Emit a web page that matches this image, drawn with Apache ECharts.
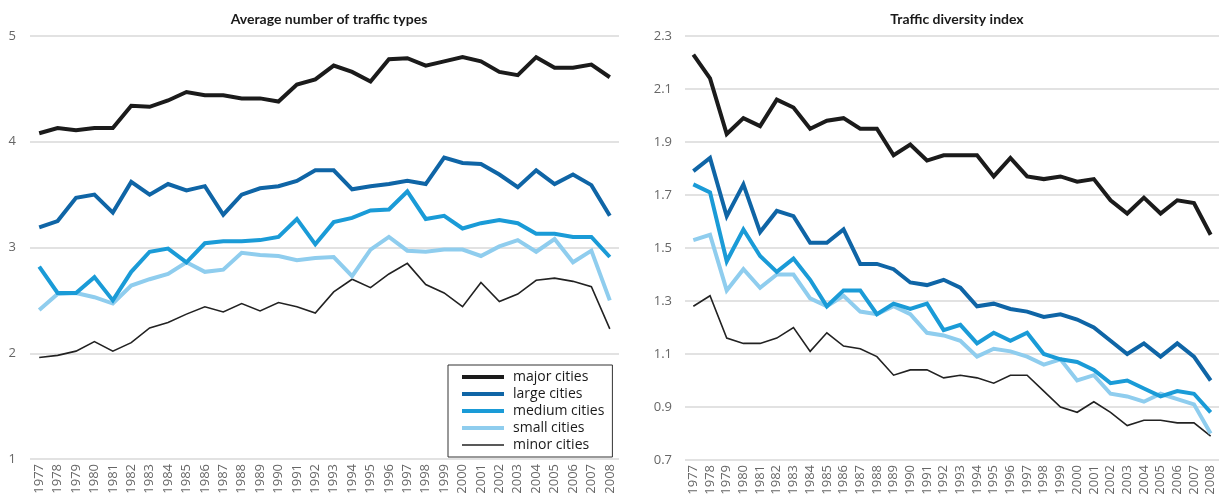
<!DOCTYPE html>
<html><head><meta charset="utf-8">
<script src="https://cdn.jsdelivr.net/npm/echarts@6/dist/echarts.min.js"></script>
<style>html,body{margin:0;padding:0;background:#fff}#c{width:1223px;height:499px}</style>
</head><body><div id="c"></div>
<script>
const years = ['1977','1978','1979','1980','1981','1982','1983','1984','1985','1986','1987','1988','1989','1990','1991','1992','1993','1994','1995','1996','1997','1998','1999','2000','2001','2002','2003','2004','2005','2006','2007','2008'];
const seriesNames = ['major cities','large cities','medium cities','small cities','minor cities'];

// Average number of traffic types
const typesMajor  = [4.08,4.13,4.11,4.13,4.13,4.34,4.33,4.39,4.47,4.44,4.44,4.41,4.41,4.38,4.54,4.59,4.72,4.66,4.57,4.78,4.79,4.72,4.76,4.80,4.76,4.66,4.63,4.80,4.70,4.70,4.73,4.61];
const typesLarge  = [3.19,3.25,3.47,3.50,3.33,3.62,3.50,3.60,3.54,3.58,3.31,3.50,3.56,3.58,3.63,3.73,3.73,3.55,3.58,3.60,3.63,3.60,3.85,3.80,3.79,3.69,3.57,3.73,3.60,3.69,3.59,3.30];
const typesMedium = [2.82,2.57,2.57,2.72,2.50,2.77,2.96,2.99,2.86,3.04,3.06,3.06,3.07,3.10,3.27,3.03,3.24,3.28,3.35,3.36,3.53,3.27,3.30,3.18,3.23,3.26,3.23,3.13,3.13,3.10,3.10,2.91];
const typesSmall  = [2.41,2.56,2.57,2.53,2.47,2.64,2.70,2.75,2.86,2.77,2.79,2.95,2.93,2.92,2.88,2.90,2.91,2.73,2.98,3.10,2.97,2.96,2.98,2.98,2.92,3.01,3.07,2.96,3.08,2.86,2.97,2.50];
const typesMinor  = [1.96,1.98,2.02,2.11,2.02,2.10,2.24,2.29,2.37,2.44,2.39,2.47,2.40,2.48,2.44,2.38,2.58,2.70,2.62,2.75,2.85,2.65,2.57,2.44,2.67,2.49,2.56,2.69,2.71,2.68,2.63,2.23];

// Traffic diversity index
const divMajor  = [2.23,2.14,1.93,1.99,1.96,2.06,2.03,1.95,1.98,1.99,1.95,1.95,1.85,1.89,1.83,1.85,1.85,1.85,1.77,1.84,1.77,1.76,1.77,1.75,1.76,1.68,1.63,1.69,1.63,1.68,1.67,1.55];
const divLarge  = [1.79,1.84,1.62,1.74,1.56,1.64,1.62,1.52,1.52,1.57,1.44,1.44,1.42,1.37,1.36,1.38,1.35,1.28,1.29,1.27,1.26,1.24,1.25,1.23,1.20,1.15,1.10,1.14,1.09,1.14,1.09,1.00];
const divMedium = [1.74,1.71,1.45,1.57,1.47,1.41,1.46,1.38,1.28,1.34,1.34,1.25,1.29,1.27,1.29,1.19,1.21,1.14,1.18,1.15,1.18,1.10,1.08,1.07,1.04,0.99,1.00,0.97,0.94,0.96,0.95,0.88];
const divSmall  = [1.53,1.55,1.34,1.42,1.35,1.40,1.40,1.31,1.28,1.32,1.26,1.25,1.28,1.25,1.18,1.17,1.15,1.09,1.12,1.11,1.09,1.06,1.08,1.00,1.02,0.95,0.94,0.92,0.95,0.93,0.91,0.80];
const divMinor  = [1.28,1.32,1.16,1.14,1.14,1.16,1.20,1.11,1.18,1.13,1.12,1.09,1.02,1.04,1.04,1.01,1.02,1.01,0.99,1.02,1.02,0.96,0.90,0.88,0.92,0.88,0.83,0.85,0.85,0.84,0.84,0.79];

const colors = ['#1b1b1b','#0f65a6','#1a9bd7','#8fcdee','#222222'];
const widths = [4,4,4,4,1.6];
const FONT = '"Open Sans", "Noto Sans", sans-serif';
const TFONT = 'Lato, "Open Sans", sans-serif';

function mk(name, data, idx, gi){
  return {name, type:'line', xAxisIndex:gi, yAxisIndex:gi, data, symbol:'none', smooth:false,
    lineStyle:{color:colors[idx], width:widths[idx], join:'miter'}, itemStyle:{color:colors[idx]}, z: 10-idx};
}
const xAxisBase = {type:'category', data:years, boundaryGap:true,
  axisLine:{show:false}, axisTick:{show:false},
  axisLabel:{rotate:90, fontSize:13, color:'#666', fontFamily:FONT, margin:5, interval:0}};
const yAxisBase = {type:'value', axisLine:{show:false}, axisTick:{show:false},
  splitLine:{lineStyle:{color:'#d9d9d9', width:1.5}}};

const chart = echarts.init(document.getElementById('c'), null, {renderer:'canvas'});
chart.setOption({
  animation:false,
  title:[
    {text:'Average number of traffic types', left:324, top:7, textAlign:'center',
     textStyle:{fontSize:14, fontWeight:'bold', color:'#1a1a1a', fontFamily:TFONT}},
    {text:'Traffic diversity index', left:952, top:7, textAlign:'center',
     textStyle:{fontSize:14, fontWeight:'bold', color:'#1a1a1a', fontFamily:TFONT}}
  ],
  grid:[
    {left:30, right:604, top:36, bottom:40},
    {left:685, right:4, top:36, bottom:39}
  ],
  xAxis:[Object.assign({gridIndex:0}, xAxisBase), Object.assign({gridIndex:1}, xAxisBase)],
  yAxis:[
    Object.assign({gridIndex:0, min:1, max:5, interval:1,
      axisLabel:{fontSize:13, color:'#666', fontFamily:FONT, margin:14}}, yAxisBase),
    Object.assign({gridIndex:1, min:0.7, max:2.3, interval:0.2,
      axisLabel:{fontSize:13, color:'#666', fontFamily:FONT, margin:13, formatter:v=>v.toFixed(1)}}, yAxisBase)
  ],
  legend:{
    data:seriesNames.map((n,i)=>({name:n, lineStyle:{width:widths[i], color:colors[i]}})),
    orient:'vertical', left:448, top:365,
    itemWidth:42, itemHeight:12, itemGap:3,
    itemStyle:{color:'rgba(0,0,0,0)', borderWidth:0, borderColor:'rgba(0,0,0,0)'},
    borderColor:'#333', borderWidth:1, borderRadius:0, padding:[5,8,5,12],
    textStyle:{fontSize:14, color:'#1a1a1a', fontFamily:FONT, padding:[0,0,0,4]},
    backgroundColor:'#fff'
  },
  series:[
    mk(seriesNames[0], typesMajor, 0, 0),
    mk(seriesNames[1], typesLarge, 1, 0),
    mk(seriesNames[2], typesMedium, 2, 0),
    mk(seriesNames[3], typesSmall, 3, 0),
    mk(seriesNames[4], typesMinor, 4, 0),
    mk(seriesNames[0], divMajor, 0, 1),
    mk(seriesNames[1], divLarge, 1, 1),
    mk(seriesNames[2], divMedium, 2, 1),
    mk(seriesNames[3], divSmall, 3, 1),
    mk(seriesNames[4], divMinor, 4, 1)
  ]
});
</script></body></html>
